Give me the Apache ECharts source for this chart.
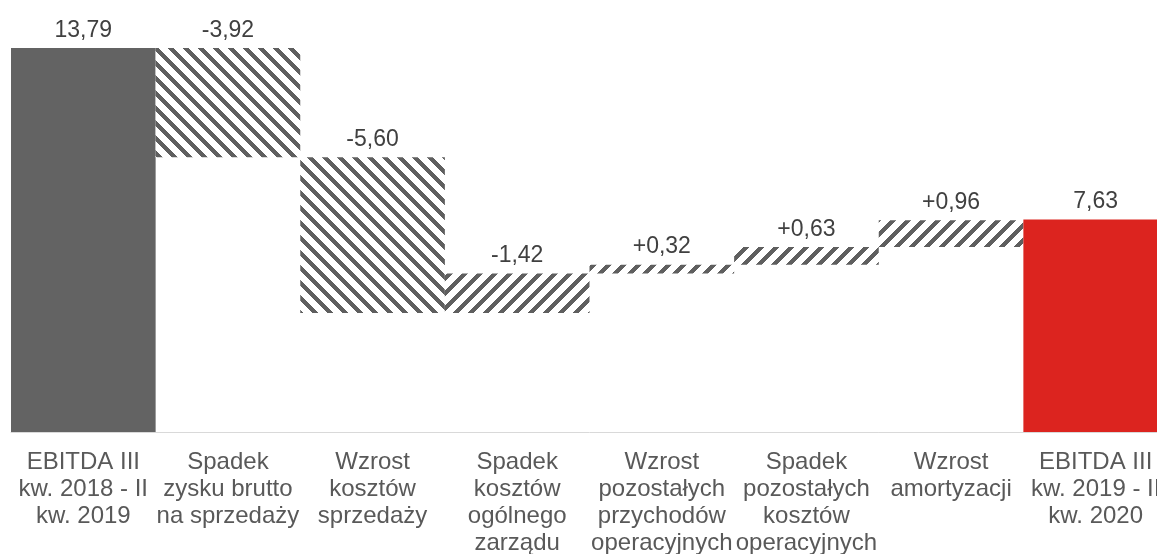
<!DOCTYPE html>
<html><head><meta charset="utf-8">
<script src="https://cdn.jsdelivr.net/npm/echarts@6/dist/echarts.min.js"></script>
<style>html,body{margin:0;padding:0;background:#fff;overflow:hidden;width:1157px;height:554px}#c{width:1168px;height:554px}</style>
</head><body><div id="c"></div>
<script>
var categories = [
  'EBITDA III\nkw. 2018 - II\nkw. 2019',
  'Spadek\nzysku brutto\nna sprzedaży',
  'Wzrost\nkosztów\nsprzedaży',
  'Spadek\nkosztów\nogólnego\nzarządu',
  'Wzrost\npozostałych\nprzychodów\noperacyjnych',
  'Spadek\npozostałych\nkosztów\noperacyjnych',
  'Wzrost\namortyzacji',
  'EBITDA III\nkw. 2019 - II\nkw. 2020'
];
// first and last are totals, the rest are changes to the running total
var changes = [13.79, -3.92, -5.60, 1.42, 0.32, 0.63, 0.96, 7.63];
var valueLabels = ['13,79', '-3,92', '-5,60', '-1,42', '+0,32', '+0,63', '+0,96', '7,63'];

function makePattern(dir) {
  var n = 15, c = document.createElement('canvas');
  c.width = n; c.height = n;
  var ctx = c.getContext('2d');
  var img = ctx.createImageData(n, n);
  for (var y = 0; y < n; y++) for (var x = 0; x < n; x++) {
    var k = dir > 0 ? ((x + y) % n) : (((x - y) % n) + n) % n;
    var dark = k < 6;
    var i = (y * n + x) * 4;
    var v = dark ? 0x5f : 0xff;
    img.data[i] = v; img.data[i + 1] = v; img.data[i + 2] = v; img.data[i + 3] = 255;
  }
  ctx.putImageData(img, 0, 0);
  return c;
}
var patDown = makePattern(-1), patUp = makePattern(1);

var base = [], visible = [];
var run = 0;
for (var i = 0; i < changes.length; i++) {
  var d = changes[i];
  if (i === 0 || i === changes.length - 1) {
    base.push(0);
    visible.push({value: d, itemStyle: {color: i === 0 ? '#636363' : '#dc241f'}});
    run = d;
  } else {
    var next = run + d;
    base.push(Math.min(run, next));
    visible.push({value: Math.abs(d), itemStyle: {color: {image: d < 0 ? patDown : patUp, repeat: 'repeat'}}});
    run = next;
  }
}

var chart = echarts.init(document.getElementById('c'), null, {renderer: 'canvas'});
chart.setOption({
  animation: false,
  grid: {left: 11, right: 0, top: 48, bottom: 122, containLabel: false, outerBoundsMode: 'none'},
  xAxis: {
    type: 'category', data: categories,
    axisLine: {lineStyle: {color: '#d9d9d9', width: 1}},
    axisTick: {show: false},
    axisLabel: {interval: 0, color: '#595959', fontSize: 24, fontFamily: 'Liberation Sans, Arial, sans-serif', lineHeight: 27, margin: 17}
  },
  yAxis: {type: 'value', min: 0, max: 13.79, show: false, splitLine: {show: false}},
  series: [
    {type: 'bar', stack: 'w', data: base, itemStyle: {color: 'transparent'}, barCategoryGap: '0%', silent: true},
    {type: 'bar', stack: 'w', data: visible, barCategoryGap: '0%',
     label: {show: true, position: 'top', distance: 6, color: '#404040', fontSize: 23,
             fontFamily: 'Liberation Sans, Arial, sans-serif',
             formatter: function (p) { return valueLabels[p.dataIndex]; }}}
  ]
});
</script></body></html>
